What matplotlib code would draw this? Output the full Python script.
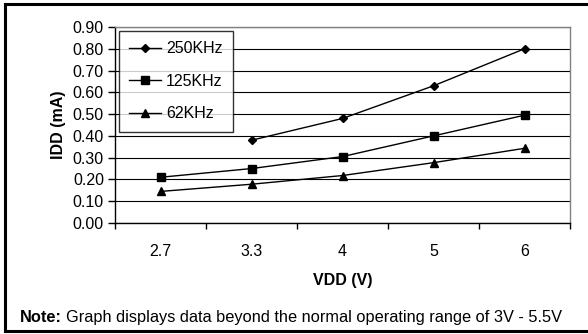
import numpy as np
import matplotlib.pyplot as plt
from matplotlib.lines import Line2D

plt.rcParams.update({
    "font.family": ["Liberation Sans", "DejaVu Sans"],
    "font.size": 11.5,
})

# === Datos ===
vdd = ["2.7", "3.3", "4", "5", "6"]
idd_250k = [np.nan, 0.38, 0.48, 0.63, 0.80]
idd_125k = [0.21, 0.25, 0.305, 0.40, 0.495]
idd_62k = [0.145, 0.178, 0.218, 0.277, 0.343]
series_labels = ["250KHz", "125KHz", "62KHz"]
y_ticks = [0.0, 0.1, 0.2, 0.3, 0.4, 0.5, 0.6, 0.7, 0.8, 0.9]

fig = plt.figure(figsize=(5.88, 3.34), dpi=100)
ax = fig.add_axes([115 / 588, 1 - 223 / 334, 455 / 588, 196 / 334])

x = np.arange(len(vdd))
ax.plot(x, idd_250k, color="k", lw=1.0, marker="D", ms=4.5, label=series_labels[0])
ax.plot(x, idd_125k, color="k", lw=1.0, marker="s", ms=6, label=series_labels[1])
ax.plot(x, idd_62k, color="k", lw=1.0, marker="^", ms=5.5, label=series_labels[2])

ax.set_xlim(-0.5, len(vdd) - 0.5)
ax.set_ylim(0, 0.9)
ax.set_yticks(y_ticks)
ax.set_yticklabels([f"{v:.2f}" for v in y_ticks], fontsize=11.5)
ax.yaxis.grid(True, color="k", lw=0.8)
ax.set_axisbelow(True)

# Categorías en el eje X, marcas entre categorías
ax.set_xticks(x)
ax.set_xticklabels(vdd, fontsize=11.5)
ax.set_xticks(np.arange(-0.5, len(vdd)), minor=True)
ax.tick_params(axis="x", which="major", length=0, pad=15)
ax.tick_params(axis="x", which="minor", length=4, width=1, direction="out")
ax.tick_params(axis="y", length=5, width=1, direction="out", pad=3)

for side in ["top", "right"]:
    ax.spines[side].set_color("#808080")
    ax.spines[side].set_linewidth(1.0)
for side in ["left", "bottom"]:
    ax.spines[side].set_linewidth(1.0)

ax.set_xlabel("VDD (V)", fontsize=11.5, fontweight="bold", labelpad=10)
ax.set_ylabel("IDD (mA)", fontsize=11.5, fontweight="bold", labelpad=5)

leg = ax.legend(loc="upper left", bbox_to_anchor=(0.009, 0.98), borderaxespad=0,
                fancybox=False, frameon=True, edgecolor="k", fontsize=11.5,
                handlelength=2.0, labelspacing=1.1, borderpad=0.65, handletextpad=0.3)
leg.get_frame().set_linewidth(1.0)

# Marco exterior (izquierda, arriba, abajo)
for xs, ys in [([5, 5], [3.5, 331]), ([5, 588], [3.5, 3.5]), ([5, 588], [331, 331])]:
    fig.add_artist(Line2D([v / 588 for v in xs], [1 - v / 334 for v in ys],
                          transform=fig.transFigure, color="k", lw=2.2))

# Nota al pie
t1 = fig.text(20 / 588, 1 - 322 / 334, "Note:", fontsize=11.8, fontweight="bold", va="baseline")
fig.canvas.draw()
bb = t1.get_window_extent()
fig.text(bb.x1 / fig.bbox.width + 4 / 588, 1 - 322 / 334,
         "Graph displays data beyond the normal operating range of 3V - 5.5V",
         fontsize=11.8, va="baseline")

fig.savefig("out.png", dpi=100)
